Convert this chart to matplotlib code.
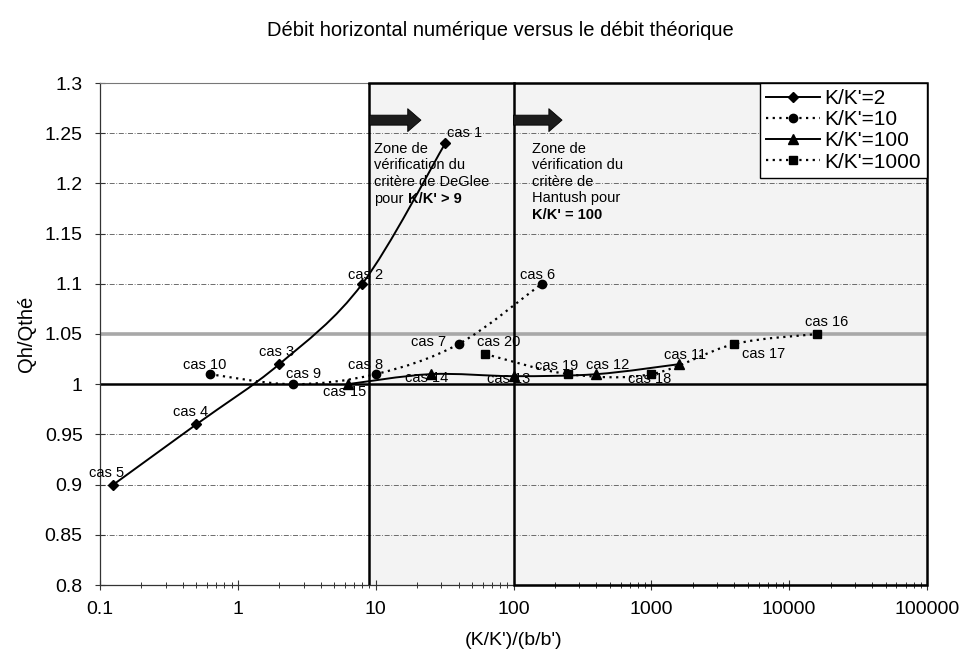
import matplotlib
matplotlib.use("Agg")
import matplotlib.pyplot as plt
import numpy as np
from matplotlib.lines import Line2D
from matplotlib.patches import FancyArrowPatch, PathPatch, Rectangle
from matplotlib.path import Path
from matplotlib.ticker import FixedLocator, FuncFormatter, LogLocator, NullFormatter

plt.rcParams["font.family"] = ["Liberation Sans", "DejaVu Sans"]

# (K/K')/(b/b') and Qh/Qthé for each K/K' series, with the case number of each point
kk2_x = [0.125, 0.5, 2, 8, 32]
kk2_y = [0.90, 0.96, 1.02, 1.10, 1.24]
kk2_cas = [5, 4, 3, 2, 1]

kk10_x = [0.625, 2.5, 10, 40, 160]
kk10_y = [1.01, 1.00, 1.01, 1.04, 1.10]
kk10_cas = [10, 9, 8, 7, 6]

kk100_x = [6.25, 25, 100, 400, 1600]
kk100_y = [1.00, 1.01, 1.008, 1.01, 1.02]
kk100_cas = [15, 14, 13, 12, 11]

kk1000_x = [62.5, 250, 1000, 4000, 16000]
kk1000_y = [1.03, 1.01, 1.01, 1.04, 1.05]
kk1000_cas = [20, 19, 18, 17, 16]

series_labels = ["K/K'=2", "K/K'=10", "K/K'=100", "K/K'=1000"]

x_ticks = [0.1, 1, 10, 100, 1000, 10000, 100000]
y_ticks = [0.8, 0.85, 0.9, 0.95, 1.0, 1.05, 1.1, 1.15, 1.2, 1.25, 1.3]

deglee_limit = 9      # K/K' > 9
hantush_limit = 100   # K/K' = 100
ref_ratio = 1.0
tolerance_line = 1.05

# where each "cas N" label sits relative to its marker (pixels)
label_offsets = {
    5: (-7, 12), 4: (-6, 12), 3: (-3, 12), 2: (3, 9), 1: (19, 10),
    10: (-5, 9), 9: (11, 10), 8: (-10, 9), 7: (-30, 2), 6: (-4, 9),
    15: (-3, -8), 14: (-4, -4), 13: (-5, -3), 12: (11, 9), 11: (6, 9),
    20: (13, 12), 19: (-12, 8), 18: (-2, -5), 17: (29, -10), 16: (9, 12),
}


def smooth_path(xs, ys):
    """Smoothed polyline (cubic Bezier through every point), built in log-x space."""
    pts = np.column_stack([np.log10(xs), np.asarray(ys, float)])
    n = len(pts)
    verts, codes = [pts[0]], [Path.MOVETO]
    for i in range(n - 1):
        p0, p1 = pts[max(i - 1, 0)], pts[i]
        p2, p3 = pts[i + 1], pts[min(i + 2, n - 1)]
        verts += [p1 + (p2 - p0) / 6, p2 - (p3 - p1) / 6, p2]
        codes += [Path.CURVE4] * 3
    verts = np.array(verts)
    verts[:, 0] = 10 ** verts[:, 0]
    return Path(verts, codes)


fig = plt.figure(figsize=(9.66, 6.62), dpi=100)
ax = fig.add_axes([100 / 966, 77 / 662, 827 / 966, 502 / 662])
ax.set_xscale("log")
ax.set_xlim(x_ticks[0], x_ticks[-1])
ax.set_ylim(y_ticks[0], y_ticks[-1])

# verification zones
zone_fc = "#f3f3f3"
y_span = y_ticks[-1] - y_ticks[0]
ax.add_patch(Rectangle((deglee_limit, y_ticks[0]), x_ticks[-1] - deglee_limit, y_span,
                       fc=zone_fc, ec="none", zorder=0.2))
ax.add_patch(Rectangle((hantush_limit, y_ticks[0]), x_ticks[-1] - hantush_limit, y_span,
                       fc="none", ec="black", lw=1.8, zorder=3, clip_on=False))
ax.axvline(deglee_limit, color="black", lw=1.8, zorder=3)
ax.plot([deglee_limit, hantush_limit], [y_ticks[-1]] * 2, color="black", lw=1.8,
        zorder=3, clip_on=False)

# grid + reference lines
ax.set_axisbelow(True)
ax.yaxis.grid(True, ls=(0, (6, 2, 1, 2)), color="#555555", lw=0.6)
ax.axhline(tolerance_line, color="#a8a8a8", lw=2.6, zorder=1)
ax.axhline(ref_ratio, color="black", lw=1.8, zorder=1.5)

series = [
    (kk2_x, kk2_y, kk2_cas, "-", "D", 5),
    (kk10_x, kk10_y, kk10_cas, (0, (1, 2)), "o", 6),
    (kk100_x, kk100_y, kk100_cas, "-", "^", 6.5),
    (kk1000_x, kk1000_y, kk1000_cas, (0, (1, 2)), "s", 5.5),
]
handles = []
for (xs, ys, cas, ls, mk, ms), lab in zip(series, series_labels):
    lw = 1.4 if ls == "-" else 1.6
    ax.add_patch(PathPatch(smooth_path(xs, ys), fill=False, ec="black",
                           lw=lw, ls=ls, zorder=4))
    ax.plot(xs, ys, ls="none", marker=mk, ms=ms, color="black", zorder=5)
    for x, y, c in zip(xs, ys, cas):
        ax.annotate(f"cas {c}", (x, y), xytext=label_offsets[c],
                    textcoords="offset pixels", ha="center", va="center",
                    fontsize=10.5, zorder=6)
    handles.append(Line2D([], [], color="black", ls=ls, lw=lw, marker=mk, ms=ms))

# arrows pointing into each zone
arrow_y = 1.263
for x0, x1 in [(deglee_limit, 21.3), (hantush_limit, 225)]:
    ax.add_patch(FancyArrowPatch(
        (x0, arrow_y), (x1, arrow_y),
        arrowstyle="simple,head_length=9.5,head_width=16.5,tail_width=7.2",
        mutation_scale=1, shrinkA=0, shrinkB=0, fc="#1c1c1c", ec="black",
        lw=0.6, zorder=4))

# zone captions (last part in bold)
zone_kw = dict(fontsize=10.5, zorder=6, linespacing=1.2)
t1 = ax.annotate("Zone de\nvérification du\ncritère de DeGlee",
                 (deglee_limit, 1.241), xytext=(5, 0), textcoords="offset pixels",
                 ha="left", va="top", **zone_kw)
t1b = ax.annotate("pour", (0, 0), xycoords=t1, xytext=(0, -2.5),
                  textcoords="offset points", ha="left", va="top", **zone_kw)
ax.annotate("K/K' > 9", (1, 0), xycoords=t1b, xytext=(3, 0),
            textcoords="offset points", fontweight="bold",
            ha="left", va="bottom", **zone_kw)
t2 = ax.annotate("Zone de\nvérification du\ncritère de\nHantush pour",
                 (hantush_limit, 1.241), xytext=(18, 0), textcoords="offset pixels",
                 ha="left", va="top", **zone_kw)
ax.annotate("K/K' = 100", (0, 0), xycoords=t2, xytext=(0, -2.5),
            textcoords="offset points", fontweight="bold",
            ha="left", va="top", **zone_kw)

# axes styling
ax.xaxis.set_major_locator(FixedLocator(x_ticks))
ax.xaxis.set_major_formatter(FuncFormatter(lambda v, _: f"{v:g}"))
ax.xaxis.set_minor_locator(LogLocator(base=10, subs=np.arange(2, 10)))
ax.xaxis.set_minor_formatter(NullFormatter())
ax.yaxis.set_major_locator(FixedLocator(y_ticks))
ax.yaxis.set_major_formatter(FuncFormatter(lambda v, _: f"{v:g}"))
ax.tick_params(axis="both", which="major", direction="inout", length=7, width=0.8,
               labelsize=14, color="#333333")
ax.tick_params(axis="y", pad=9)
ax.tick_params(axis="x", pad=8)
ax.tick_params(axis="x", which="minor", direction="inout", length=5, width=0.7,
               color="#333333")
for side in ("left", "bottom"):
    ax.spines[side].set_color("#333333")
    ax.spines[side].set_linewidth(0.9)
ax.spines["top"].set_color("#777777")
ax.spines["top"].set_linestyle((0, (1, 1)))
ax.spines["right"].set_visible(False)

ax.set_xlabel("(K/K')/(b/b')", fontsize=14, labelpad=10)
ax.set_ylabel("Qh/Qthé", fontsize=14.5, labelpad=6)
fig.text(500 / 966, 1 - 30 / 662, "Débit horizontal numérique versus le débit théorique",
         ha="center", va="center", fontsize=14.5)

leg = ax.legend(handles, series_labels, loc="upper right", bbox_to_anchor=(1, 1),
                borderaxespad=0, fontsize=15, handlelength=2.6, handletextpad=0.2,
                labelspacing=0.1, borderpad=0.3, fancybox=False, framealpha=1,
                edgecolor="black")
leg.get_frame().set_linewidth(1.0)
leg.set_zorder(7)

fig.savefig("out.png", dpi=100)
